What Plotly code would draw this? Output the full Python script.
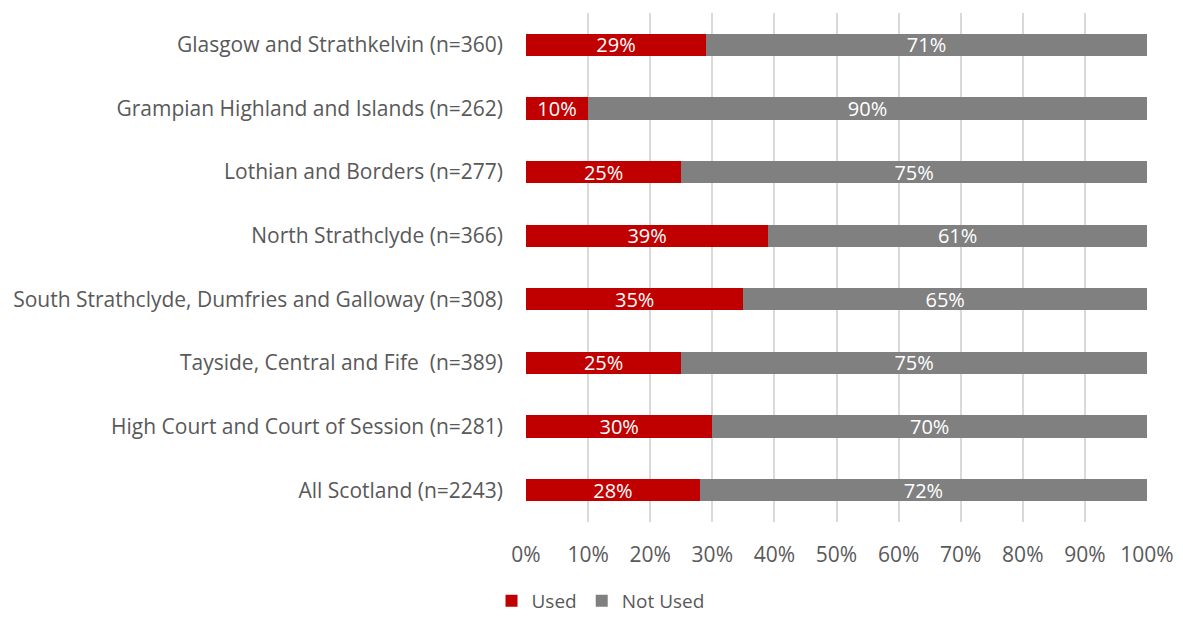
import plotly.graph_objects as go

categories = [
    "Glasgow and Strathkelvin (n=360)",
    "Grampian Highland and Islands (n=262)",
    "Lothian and Borders (n=277)",
    "North Strathclyde (n=366)",
    "South Strathclyde, Dumfries and Galloway (n=308)",
    "Tayside, Central and Fife  (n=389)",
    "High Court and Court of Session (n=281)",
    "All Scotland (n=2243)",
]
used = [0.29, 0.10, 0.25, 0.39, 0.35, 0.25, 0.30, 0.28]
not_used = [0.71, 0.90, 0.75, 0.61, 0.65, 0.75, 0.70, 0.72]
tick_vals = [i / 10 for i in range(11)]
tick_text = [f"{i*10}%" for i in range(11)]

FONT = "Open Sans"
fig = go.Figure()
fig.add_trace(go.Bar(
    y=categories, x=used, orientation="h", name="Used",
    marker=dict(color="#C00000", line=dict(width=0)),
    text=[f"{round(v*100)}%" for v in used], textposition="inside",
    insidetextanchor="middle", textangle=0, constraintext="none",
    textfont=dict(color="white", size=20, family=FONT),
))
fig.add_trace(go.Bar(
    y=categories, x=not_used, orientation="h", name="Not Used",
    marker=dict(color="#808080", line=dict(width=0)),
    text=[f"{round(v*100)}%" for v in not_used], textposition="inside",
    insidetextanchor="middle", textangle=0, constraintext="none",
    textfont=dict(color="white", size=20, family=FONT),
))
fig.update_layout(
    barmode="stack", bargap=0.65,
    width=1175, height=609,
    margin=dict(l=518, r=36, t=5, b=95, autoexpand=False),
    paper_bgcolor="white", plot_bgcolor="white",
    font=dict(family=FONT, color="#595959", size=18),
    legend=dict(orientation="h", x=0.12, xanchor="center", y=-0.155, yanchor="middle",
                font=dict(size=19, color="#595959"), traceorder="normal",
                itemwidth=30, bgcolor="rgba(0,0,0,0)"),
    showlegend=True,
)
fig.update_xaxes(range=[0, 1.0], tickvals=tick_vals, ticktext=tick_text,
                 showgrid=True, gridcolor="#D9D9D9", gridwidth=1.5, zeroline=False,
                 showline=False, ticklabelstandoff=18, tickfont=dict(size=21),
                 automargin=False)
fig.update_yaxes(autorange="reversed", showgrid=False, showline=False,
                 ticklabelstandoff=22, tickfont=dict(size=21), automargin=False)
fig.write_html("out.html")
